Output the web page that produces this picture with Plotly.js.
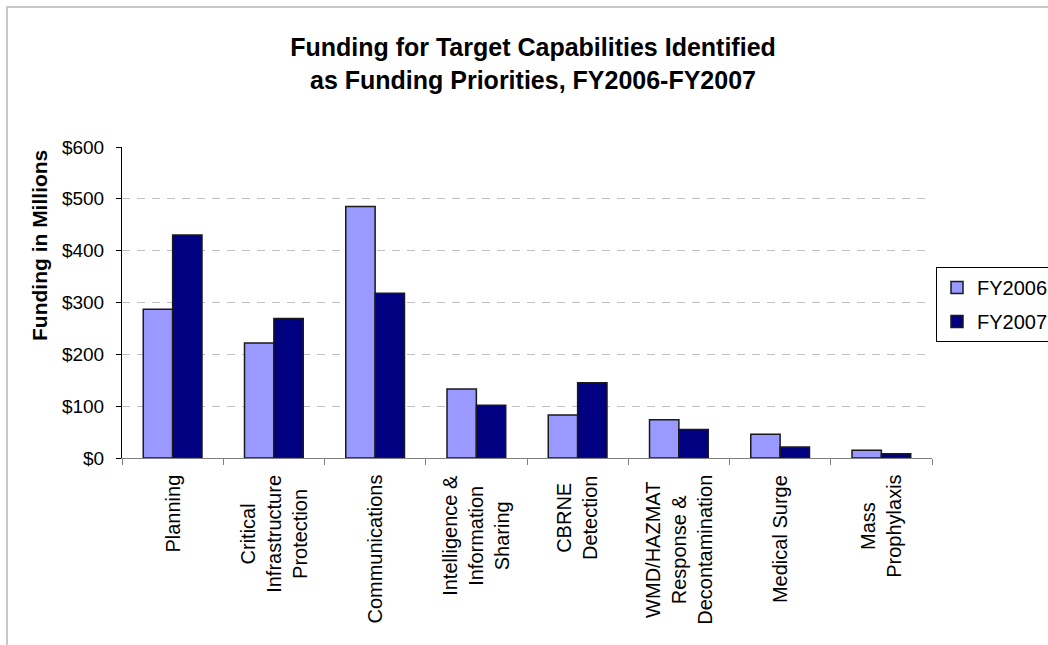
<!DOCTYPE html>
<html>
<head>
<meta charset="utf-8">
<script src="https://cdn.plot.ly/plotly-3.0.1.min.js"></script>
<style>
  html, body { margin: 0; padding: 0; background: #ffffff; }
  #chart { width: 1048px; height: 645px; }
</style>
</head>
<body>
<div id="chart"></div>
<script>
// ---- Data ----
const categories = ['Planning', 'Critical Infrastructure Protection', 'Communications',
  'Intelligence & Information Sharing', 'CBRNE Detection',
  'WMD/HAZMAT Response & Decontamination', 'Medical Surge', 'Mass Prophylaxis'];
const tickLabels = ['Planning', 'Critical<br>Infrastructure<br>Protection', 'Communications',
  'Intelligence &<br>Information<br>Sharing', 'CBRNE<br>Detection',
  'WMD/HAZMAT<br>Response &<br>Decontamination', 'Medical Surge', 'Mass<br>Prophylaxis'];
const fy2006 = [287, 222, 485, 133, 83, 74, 46, 15];
const fy2007 = [430, 269, 318, 102, 145, 55, 21, 8];
const seriesNames = ['FY2006', 'FY2007'];
const yTicks = [0, 100, 200, 300, 400, 500, 600];
const yTickText = ['$0', '$100', '$200', '$300', '$400', '$500', '$600'];

const FONT = 'Arial, "Liberation Sans", sans-serif';

const traces = [
  {
    type: 'bar', name: seriesNames[0], x: categories, y: fy2006,
    marker: { color: '#9999FF', line: { color: '#1a1a1a', width: 1.5 } },
    legendgroup: 'a'
  },
  {
    type: 'bar', name: seriesNames[1], x: categories, y: fy2007,
    marker: { color: '#000080', line: { color: '#1a1a1a', width: 1.5 } },
    legendgroup: 'b'
  }
];

const annotations = categories.map((c, i) => ({
  x: c, xref: 'x', y: -0.048, yref: 'paper',
  text: tickLabels[i], textangle: -90, showarrow: false,
  xanchor: 'center', yanchor: 'top', align: 'center',
  font: { family: FONT, size: 20, color: '#000000' }
}));
annotations.push({
  x: (39 - 122) / 810, xref: 'paper', y: (458 - 246) / 311, yref: 'paper',
  xanchor: 'center', yanchor: 'middle', showarrow: false,
  text: '<b>Funding in Millions</b>', textangle: -90,
  font: { family: FONT, size: 21, color: '#000000' }
});

const layout = {
  width: 1048, height: 645,
  paper_bgcolor: '#ffffff', plot_bgcolor: '#ffffff',
  margin: { l: 122, r: 116, t: 147, b: 187, autoexpand: false },
  font: { family: FONT, color: '#000000' },
  title: {
    text: '<b>Funding for Target Capabilities Identified<br>as Funding Priorities, FY2006-FY2007</b>',
    font: { family: FONT, size: 25, color: '#000000' },
    x: 533 / 1048, xref: 'container', xanchor: 'center',
    y: 1 - 56 / 645, yref: 'container', yanchor: 'top'
  },
  barmode: 'group', bargap: 0.42, bargroupgap: 0,
  showlegend: true,
  legend: {
    x: (936 - 122) / 810, xanchor: 'left',
    y: (458 - 267) / 311, yanchor: 'top',
    bordercolor: '#000000', borderwidth: 1, bgcolor: '#ffffff',
    font: { family: FONT, size: 20, color: '#000000' },
    traceorder: 'grouped', tracegroupgap: 5
  },
  xaxis: {
    type: 'category', showticklabels: false, showgrid: false, zeroline: false,
    showline: true, linecolor: '#808080', linewidth: 1,
    ticks: 'outside', tickson: 'boundaries', ticklen: 6, tickcolor: '#808080'
  },
  yaxis: {
    range: [0, 600], tickmode: 'array', tickvals: yTicks, ticktext: yTickText,
    showline: true, linecolor: '#000000', linewidth: 1,
    ticks: 'outside', ticklen: 5, tickcolor: '#000000', ticklabelstandoff: 8,
    showgrid: true, gridcolor: '#c0c0c0', gridwidth: 1, griddash: '8px,7px',
    zeroline: false,
    tickfont: { family: FONT, size: 19, color: '#000000' }
  },
  shapes: [{
    type: 'rect', xref: 'paper', yref: 'paper',
    x0: (7 - 122) / 810, x1: 1.3, y0: -0.8, y1: (458 - 7) / 311,
    line: { color: '#c8c8c8', width: 2 }, fillcolor: 'rgba(0,0,0,0)', layer: 'above'
  }],
  annotations: annotations
};

Plotly.newPlot('chart', traces, layout, { displayModeBar: false, staticPlot: true });
</script>
</body>
</html>
